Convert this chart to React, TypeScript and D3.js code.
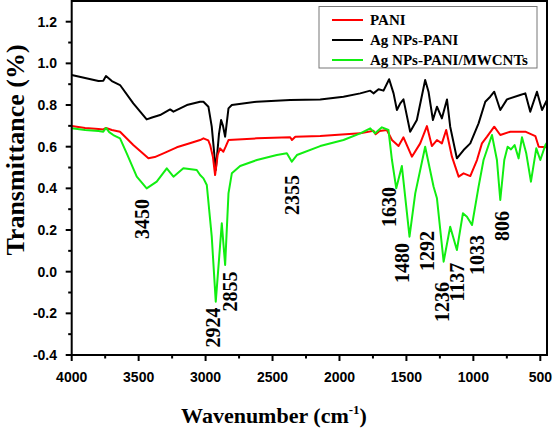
import React from "react";
import * as d3 from "d3";

const xTicks = [4000, 3500, 3000, 2500, 2000, 1500, 1000, 500];
const yTicks = [-0.4, -0.2, 0.0, 0.2, 0.4, 0.6, 0.8, 1.0, 1.2];

const seriesNames = ["PANI", "Ag NPs-PANI", "Ag NPs-PANI/MWCNTs"];
const seriesColors = ["#ff0000", "#000000", "#11ee11"];

const pani: [number, number][] = [
  [4000, 0.699], [3900, 0.69], [3800, 0.685], [3764, 0.683], [3744, 0.69], [3700, 0.68], [3639, 0.672],
  [3540, 0.608], [3427, 0.544], [3380, 0.55], [3315, 0.568], [3215, 0.597], [3100, 0.62], [3041, 0.632],
  [3016, 0.64], [2980, 0.63], [2966, 0.608], [2945, 0.55], [2929, 0.464], [2910, 0.56], [2892, 0.592],
  [2867, 0.576], [2850, 0.6], [2829, 0.632], [2617, 0.64], [2368, 0.645], [2355, 0.632], [2330, 0.648],
  [2144, 0.651], [1845, 0.664], [1746, 0.677], [1730, 0.66], [1700, 0.675], [1646, 0.68], [1608, 0.632],
  [1559, 0.603], [1522, 0.645], [1459, 0.552], [1397, 0.616], [1347, 0.699], [1310, 0.603], [1272, 0.632],
  [1235, 0.616], [1203, 0.68], [1160, 0.552], [1110, 0.456], [1073, 0.472], [1023, 0.459], [973, 0.536],
  [936, 0.616], [898, 0.648], [844, 0.696], [799, 0.656], [724, 0.672], [612, 0.672], [537, 0.651],
  [512, 0.6], [450, 0.597],
];

const agPani: [number, number][] = [
  [4000, 0.944], [3900, 0.93], [3800, 0.915], [3764, 0.917], [3744, 0.939], [3700, 0.915], [3639, 0.896],
  [3540, 0.808], [3440, 0.731], [3400, 0.74], [3340, 0.752], [3265, 0.779], [3240, 0.768], [3140, 0.8],
  [3041, 0.816], [3016, 0.816], [2979, 0.792], [2954, 0.696], [2924, 0.488], [2900, 0.66], [2884, 0.728],
  [2870, 0.7], [2854, 0.648], [2829, 0.784], [2804, 0.8], [2617, 0.816], [2368, 0.824], [2144, 0.827],
  [1970, 0.84], [1845, 0.856], [1770, 0.869], [1746, 0.856], [1708, 0.876], [1671, 0.869], [1629, 0.924],
  [1596, 0.856], [1571, 0.776], [1546, 0.808], [1522, 0.827], [1472, 0.672], [1422, 0.728], [1360, 0.92],
  [1335, 0.864], [1302, 0.728], [1272, 0.792], [1235, 0.736], [1197, 0.827], [1173, 0.696], [1123, 0.544],
  [1073, 0.584], [1023, 0.616], [961, 0.712], [911, 0.816], [874, 0.84], [844, 0.864], [799, 0.776],
  [749, 0.827], [650, 0.848], [612, 0.856], [575, 0.768], [525, 0.864], [487, 0.776], [450, 0.824],
];

const agPaniCnt: [number, number][] = [
  [4000, 0.688], [3900, 0.68], [3800, 0.675], [3764, 0.672], [3744, 0.69], [3720, 0.67], [3689, 0.656],
  [3639, 0.64], [3589, 0.568], [3514, 0.456], [3440, 0.4], [3365, 0.432], [3290, 0.496], [3240, 0.456],
  [3166, 0.496], [3066, 0.488], [3041, 0.464], [3016, 0.448], [2991, 0.416], [2954, 0.168], [2924, -0.144],
  [2879, 0.232], [2854, 0.032], [2829, 0.376], [2804, 0.472], [2742, 0.507], [2617, 0.536], [2468, 0.56],
  [2393, 0.568], [2356, 0.528], [2318, 0.56], [2144, 0.603], [1970, 0.632], [1845, 0.664], [1770, 0.688],
  [1734, 0.664], [1683, 0.693], [1634, 0.68], [1608, 0.536], [1576, 0.4], [1534, 0.507], [1477, 0.168],
  [1434, 0.376], [1360, 0.6], [1297, 0.408], [1272, 0.352], [1222, 0.048], [1173, 0.216], [1123, 0.104],
  [1078, 0.28], [1048, 0.264], [1010, 0.224], [961, 0.408], [924, 0.536], [861, 0.656], [824, 0.536],
  [799, 0.344], [769, 0.536], [744, 0.6], [719, 0.587], [692, 0.608], [662, 0.544], [637, 0.645],
  [605, 0.568], [570, 0.432], [530, 0.592], [500, 0.536], [462, 0.608], [450, 0.62],
];

// peak label text, and label centre in data units (wavenumber, transmittance)
const peakLabels: [string, number, number][] = [
  ["3450", 3475, 0.253], ["2924", 2948, -0.268], ["2855", 2817, -0.095], ["2355", 2354, 0.368],
  ["1630", 1629, 0.31], ["1480", 1532, 0.042], ["1292", 1345, 0.099], ["1236", 1233, -0.146],
  ["1137", 1121, -0.05], ["1033", 972, 0.08], ["806", 785, 0.219],
];

const W = 555, H = 429;
const left = 71.7, right = 547, top = 1, bottom = 355;

export default function App() {
  const x = d3.scaleLinear().domain([4000, 450]).range([left, right]);
  const y = d3.scaleLinear().domain([-0.4, 1.3]).range([bottom, bottom - 1.7 * (333.3 / 1.6)]);
  const line = d3.line<[number, number]>().x((d) => x(d[0])).y((d) => y(d[1]));
  const series = [pani, agPani, agPaniCnt];
  const xMinor = d3.range(4000, 449, -250);
  const yMinor = d3.range(-4, 13, 1).map((v) => v / 10);
  const serif = "'Liberation Serif', 'Times New Roman', serif";
  const sans = "'Liberation Sans', Arial, sans-serif";
  return (
    <svg width={W} height={H} style={{ position: "absolute", left: 0, top: 0, background: "#fff" }}>
      <defs>
        <clipPath id="plot">
          <rect x={left} y={top} width={right - left} height={bottom - top} />
        </clipPath>
      </defs>
      <g clipPath="url(#plot)">
        {[1, 0, 2].map((i) => (
          <path key={i} d={line(series[i]) || ""} fill="none" stroke={seriesColors[i]} strokeWidth={2} strokeLinejoin="round" />
        ))}
      </g>
      {/* frame */}
      <rect x={left} y={top} width={right - left} height={bottom - top} fill="none" stroke="#000" strokeWidth={2} />
      {/* x ticks */}
      {xMinor.map((v) => (
        <line key={"xm" + v} x1={x(v)} x2={x(v)} y1={bottom} y2={bottom + (v % 500 === 0 ? 6 : 3.5)} stroke="#000" strokeWidth={2} />
      ))}
      {xTicks.map((v) => (
        <text key={"xt" + v} x={x(v)} y={382} textAnchor="middle" fontFamily={sans} fontWeight="bold" fontSize={14}>{v}</text>
      ))}
      {yMinor.map((v) => (
        <line key={"ym" + v} x1={left} x2={left - (Math.round(v * 10) % 2 === 0 ? 6 : 3.5)} y1={y(v)} y2={y(v)} stroke="#000" strokeWidth={2} />
      ))}
      {yTicks.map((v) => (
        <text key={"yt" + v} x={57} y={y(v)} dy="0.36em" textAnchor="end" fontFamily={sans} fontWeight="bold" fontSize={14}>{v.toFixed(1)}</text>
      ))}
      {/* axis titles */}
      <text x={274} y={423} textAnchor="middle" fontFamily={serif} fontWeight="bold" fontSize={22}>
        Wavenumber (cm<tspan dy={-9} fontSize={13}>-1</tspan><tspan dy={9}>)</tspan>
      </text>
      <text transform={`translate(24,150) rotate(-90)`} textAnchor="middle" fontFamily={serif} fontWeight="bold" fontSize={26}>
        Transmittance (%)
      </text>
      {/* peak labels */}
      {peakLabels.map(([t, w, v]) => (
        <text key={t} transform={`translate(${x(w)},${y(v)}) rotate(-90)`} textAnchor="middle" dominantBaseline="central"
          fontFamily={serif} fontWeight="bold" fontSize={20}>{t}</text>
      ))}
      {/* legend */}
      <rect x={319} y={6.5} width={218} height={61.5} fill="#fff" stroke="#777" strokeWidth={1} />
      {seriesNames.map((n, i) => (
        <g key={n}>
          <line x1={332} x2={363} y1={20 + i * 20} y2={20 + i * 20} stroke={seriesColors[i]} strokeWidth={2} />
          <text x={370} y={20 + i * 20} dy="0.35em" fontFamily={serif} fontWeight="bold" fontSize={15}>{n}</text>
        </g>
      ))}
    </svg>
  );
}
